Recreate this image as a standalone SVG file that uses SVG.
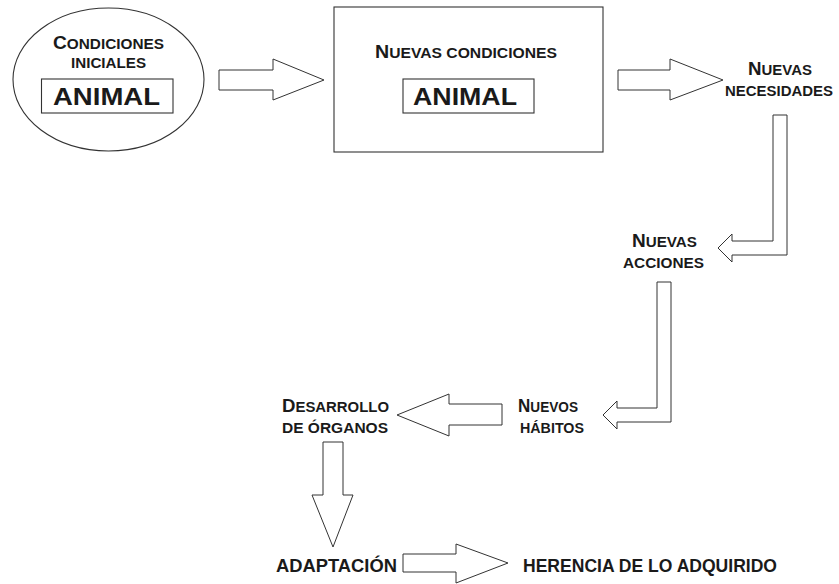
<svg xmlns="http://www.w3.org/2000/svg" width="839" height="584" viewBox="0 0 839 584">
<style>
.shape{fill:#fff;stroke:#333;stroke-width:1.1}
.arrow{fill:#fff;stroke:#333;stroke-width:1}
.t{font-family:"Liberation Sans",Arial,sans-serif;font-weight:bold;fill:#1a1a1a}
.sc{font-size:14px}
.big{font-size:17.5px}
.an{font-size:24.5px}
.lg{font-size:18px}
</style>
<rect width="839" height="584" fill="#fff"/>
<g id="connectors">
<polygon class="arrow" points="219,70 273,70 273,59 324,80 273,100 273,90 219,90"/>
<polygon class="arrow" points="618,70 670,70 670,59 723,80 670,100 670,90 618,90"/>
<polygon class="arrow" points="773,115 787,115 787,255 732,255 732,262 718,248 732,234 732,241 773,241"/>
<polygon class="arrow" points="657,282 671,282 671,422 617,422 617,429 603,415 617,401 617,408 657,408"/>
<polygon class="arrow" points="502,404 449,404 449,394 397,415 449,436 449,425 502,425"/>
<polygon class="arrow" points="323,442 343,442 343,495 353,495 333,547 312,495 323,495"/>
<polygon class="arrow" points="403,554 456,554 456,544 508,563 456,583 456,572 403,572"/>
</g>
<g id="condiciones-iniciales">
<ellipse class="shape" cx="108.5" cy="79.5" rx="95.5" ry="71.5"/>
<text class="t sc" x="53" y="49" textLength="111" lengthAdjust="spacingAndGlyphs"><tspan class="big">C</tspan>ONDICIONES</text>
<text class="t sc" x="71" y="68" textLength="75" lengthAdjust="spacingAndGlyphs">INICIALES</text>
<rect class="shape" x="41.5" y="79" width="131.5" height="34"/>
<text class="t an" x="53" y="105" textLength="107" lengthAdjust="spacingAndGlyphs">ANIMAL</text>
</g>
<g id="nuevas-condiciones">
<rect class="shape" x="334" y="7" width="269" height="145"/>
<text class="t sc" x="375" y="58" textLength="182" lengthAdjust="spacingAndGlyphs"><tspan class="big">N</tspan>UEVAS CONDICIONES</text>
<rect class="shape" x="403" y="79" width="131" height="34"/>
<text class="t an" x="413" y="105" textLength="104" lengthAdjust="spacingAndGlyphs">ANIMAL</text>
</g>
<g id="nuevas-necesidades">
<text class="t sc" x="748" y="75" textLength="64" lengthAdjust="spacingAndGlyphs"><tspan class="big">N</tspan>UEVAS</text>
<text class="t sc" x="725" y="96" textLength="108" lengthAdjust="spacingAndGlyphs">NECESIDADES</text>
</g>
<g id="nuevas-acciones">
<text class="t sc" x="632" y="247" textLength="65" lengthAdjust="spacingAndGlyphs"><tspan class="big">N</tspan>UEVAS</text>
<text class="t sc" x="623" y="268" textLength="81" lengthAdjust="spacingAndGlyphs">ACCIONES</text>
</g>
<g id="nuevos-habitos">
<text class="t sc" x="518" y="412" textLength="60" lengthAdjust="spacingAndGlyphs"><tspan class="big">N</tspan>UEVOS</text>
<text class="t sc" x="520" y="433" textLength="64" lengthAdjust="spacingAndGlyphs">HÁBITOS</text>
</g>
<g id="desarrollo-organos">
<text class="t sc" x="282" y="412" textLength="107" lengthAdjust="spacingAndGlyphs"><tspan class="big">D</tspan>ESARROLLO</text>
<text class="t sc" x="282" y="433" textLength="106" lengthAdjust="spacingAndGlyphs">DE ÓRGANOS</text>
</g>
<g id="adaptacion">
<text class="t lg" x="276" y="572" textLength="121" lengthAdjust="spacingAndGlyphs">ADAPTACIÓN</text>
</g>
<g id="herencia">
<text class="t lg" x="523" y="572" textLength="254" lengthAdjust="spacingAndGlyphs">HERENCIA DE LO ADQUIRIDO</text>
</g>
</svg>
